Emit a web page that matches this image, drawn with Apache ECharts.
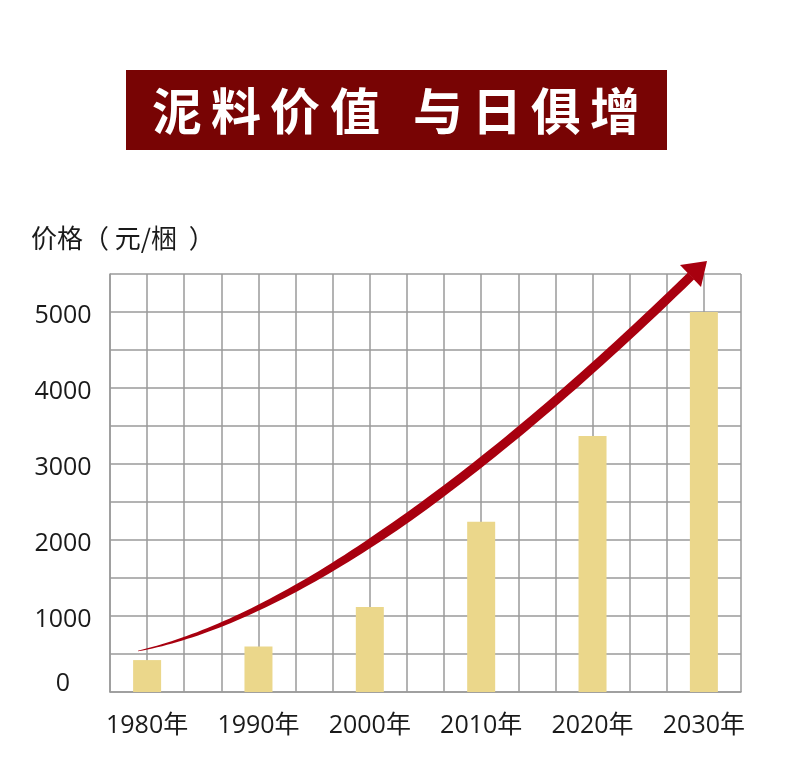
<!DOCTYPE html>
<html>
<head>
<meta charset="utf-8">
<script src="https://cdn.jsdelivr.net/npm/echarts@6/dist/echarts.min.js"></script>
<style>
html,body{margin:0;padding:0;background:#fff;}
#main{width:797px;height:765px;}
</style>
</head>
<body>
<div id="main"></div>
<script>
// ---- data ----
var categories = ['1980年', '1990年', '2000年', '2010年', '2020年', '2030年'];
var prices = [420, 600, 1120, 2240, 3370, 5000];
var yTickLabels = [0, 1000, 2000, 3000, 4000, 5000];
var titleChars = ['泥', '料', '价', '值', '与', '日', '俱', '增'];
var yAxisTitle = '价格（ 元/梱  ）';

// category i sits on grid column 1 + 3*i of a 17-column grid
var barData = prices.map(function (v, i) { return [1 + 3 * i, v]; });

var chart = echarts.init(document.getElementById('main'), null, {renderer: 'canvas'});

var gridColor = '#9a9a9a';
var labelFont = '"Open Sans", "Noto Sans CJK SC", sans-serif';

// --- decorative trend arrow (tapered curve + head) ---
function bez(p0, p1, p2, p3, t) {
  var u = 1 - t;
  return [
    u*u*u*p0[0] + 3*u*u*t*p1[0] + 3*u*t*t*p2[0] + t*t*t*p3[0],
    u*u*u*p0[1] + 3*u*u*t*p1[1] + 3*u*t*t*p2[1] + t*t*t*p3[1]
  ];
}
var P0 = [138, 651], P1 = [262, 625], P2 = [440, 520], P3 = [691, 276];
var N = 80, left = [], right = [];
for (var k = 0; k <= N; k++) {
  var t = k / N;
  var p = bez(P0, P1, P2, P3, t);
  var q = bez(P0, P1, P2, P3, Math.min(1, t + 0.001));
  var r = bez(P0, P1, P2, P3, Math.max(0, t - 0.001));
  var dx = q[0] - r[0], dy = q[1] - r[1];
  var len = Math.sqrt(dx*dx + dy*dy) || 1;
  var nx = -dy / len, ny = dx / len;
  var w = 0.6 + 8.6 * Math.pow(Math.min(1, t / 0.55), 0.85);
  left.push([p[0] + nx * w / 2, p[1] + ny * w / 2]);
  right.push([p[0] - nx * w / 2, p[1] - ny * w / 2]);
}
var shaftPts = left.concat(right.reverse());

var graphics = [
  {
    type: 'rect', left: 126, top: 70, z: 10,
    shape: {width: 541, height: 80},
    style: {fill: '#780404'}
  },
  {
    type: 'polygon', z: 20, silent: true,
    shape: {points: shaftPts},
    style: {fill: '#a8000f'}
  },
  {
    type: 'polygon', z: 20, silent: true,
    shape: {points: [[707, 261], [680, 265], [701, 287]]},
    style: {fill: '#a8000f'}
  },
  {
    type: 'text', left: 31, top: 225, z: 10,
    style: {text: yAxisTitle, fill: '#1a1a1a', font: '26px "Noto Sans CJK SC", sans-serif'}
  }
];
var charX = [177, 236, 295, 355, 438, 497, 556, 615];
titleChars.forEach(function (c, i) {
  graphics.push({
    type: 'text', z: 11,
    x: charX[i], y: 111,
    style: {
      text: c, fill: '#ffffff',
      font: 'bold 50px "Noto Sans CJK SC", sans-serif',
      align: 'center', verticalAlign: 'middle'
    }
  });
});

var option = {
  backgroundColor: '#ffffff',
  animation: false,
  grid: {left: 110, right: 56, top: 274, bottom: 73, containLabel: false},
  xAxis: {
    type: 'value', min: 0, max: 17, interval: 1,
    axisLine: {show: true, lineStyle: {color: gridColor, width: 1.5}},
    axisTick: {show: false},
    splitLine: {show: true, lineStyle: {color: gridColor, width: 1.5}},
    axisLabel: {
      margin: 21, fontSize: 25, color: '#1a1a1a', fontFamily: labelFont,
      showMinLabel: true, showMaxLabel: true,
      formatter: function (v) {
        var idx = (v - 1) / 3;
        return (Number.isInteger(idx) && categories[idx]) ? categories[idx] : '';
      }
    }
  },
  yAxis: {
    type: 'value', min: 0, max: 5500, interval: 500,
    axisLine: {show: true, lineStyle: {color: gridColor, width: 1.5}},
    axisTick: {show: false},
    splitLine: {show: true, lineStyle: {color: gridColor, width: 1.5}},
    axisLabel: {
      margin: 47, align: 'center', color: '#1a1a1a',
      fontSize: 25, fontFamily: labelFont,
      formatter: function (v) {
        if (yTickLabels.indexOf(v) < 0) return '';
        return v === 0 ? '{z|0}' : '{a|' + v + '}';
      },
      rich: {
        a: {fontSize: 25, fontFamily: labelFont, color: '#1a1a1a', padding: [8, 0, 0, 0]},
        z: {fontSize: 25, fontFamily: labelFont, color: '#1a1a1a', padding: [0, 0, 16, 0]}
      }
    }
  },
  series: [{
    type: 'bar',
    data: barData,
    barWidth: 28,
    itemStyle: {color: '#ebd78b'},
    z: 5
  }],
  graphic: graphics
};
chart.setOption(option);
</script>
</body>
</html>
